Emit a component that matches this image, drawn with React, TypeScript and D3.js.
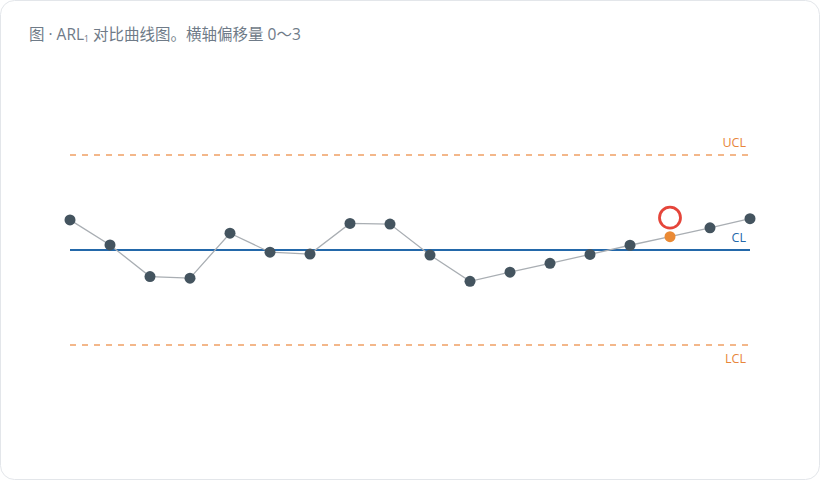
import { useEffect, useRef } from 'react'
import * as d3 from 'd3'

// standardized sample values (CL = 0, limits at ±3σ)
const samples = [0.95, 0.16, -0.84, -0.89, 0.53, -0.07, -0.13, 0.84, 0.82, -0.16, -0.99, -0.7, -0.42, -0.14, 0.15, 0.42, 0.7, 0.99]
const signalIdx = [15]
const limits = [
  { key: 'UCL', value: 3 },
  { key: 'CL', value: 0 },
  { key: 'LCL', value: -3 },
]

const W = 820, H = 480
const FONT = '"Open Sans", "Noto Sans CJK SC", sans-serif'
const ORANGE = '#f0a064'
const ORANGE_TXT = '#e8863a'
const BLUE = '#2368aa'
const DOT = '#44545f'

export default function App() {
  const ref = useRef<SVGSVGElement>(null)

  useEffect(() => {
    document.body.style.margin = '0'
    const svg = d3.select(ref.current!)
    svg.selectAll('*').remove()

    svg.append('rect').attr('x', 0.5).attr('y', 0.5).attr('width', W - 1).attr('height', H - 1)
      .attr('rx', 14).attr('fill', '#fff').attr('stroke', '#e3e6ea')

    const t = svg.append('text').attr('x', 29).attr('y', 40)
      .attr('font-family', FONT).attr('font-size', 15.5)
      .attr('fill', '#6f7b88')
    t.append('tspan').text('图 · ARL')
    t.append('tspan').attr('font-size', 8.5).attr('dy', 2).text('1')
    t.append('tspan').attr('dy', -2).text(' 对比曲线图。横轴偏移量 0～3')

    const x = d3.scaleLinear().domain([0, samples.length - 1]).range([70, 750])
    const y = d3.scaleLinear().domain([-3, 3]).range([345, 155])

    // limit lines
    limits.forEach(l => {
      const isCL = l.key === 'CL'
      svg.append('line').attr('x1', 70).attr('x2', 750)
        .attr('y1', y(l.value)).attr('y2', y(l.value))
        .attr('stroke', isCL ? BLUE : ORANGE).attr('stroke-width', isCL ? 2 : 1.7)
        .attr('stroke-dasharray', isCL ? null : '6,6')
      svg.append('text').attr('x', 746).attr('y', l.key === 'LCL' ? y(l.value) + 18 : y(l.value) - 8)
        .attr('text-anchor', 'end').attr('font-family', FONT).attr('font-size', 12.5)
        .attr('fill', isCL ? BLUE : ORANGE_TXT).text(l.key)
    })

    const line = d3.line<number>().x((_, i) => x(i)).y(d => y(d))
    svg.append('path').datum(samples).attr('fill', 'none')
      .attr('stroke', '#a9aeb3').attr('stroke-width', 1.3).attr('d', line)

    svg.selectAll('circle.pt').data(samples).join('circle').attr('class', 'pt')
      .attr('cx', (_, i) => x(i)).attr('cy', d => y(d)).attr('r', 5.5)
      .attr('fill', (_, i) => signalIdx.includes(i) ? '#ea8a35' : DOT)

    signalIdx.forEach(i => {
      svg.append('circle').attr('cx', x(i)).attr('cy', y(samples[i]) - 19).attr('r', 10.5)
        .attr('fill', 'none').attr('stroke', '#e5453a').attr('stroke-width', 2.8)
    })
  }, [])

  return <svg ref={ref} width={W} height={H} style={{ display: 'block' }} />
}
